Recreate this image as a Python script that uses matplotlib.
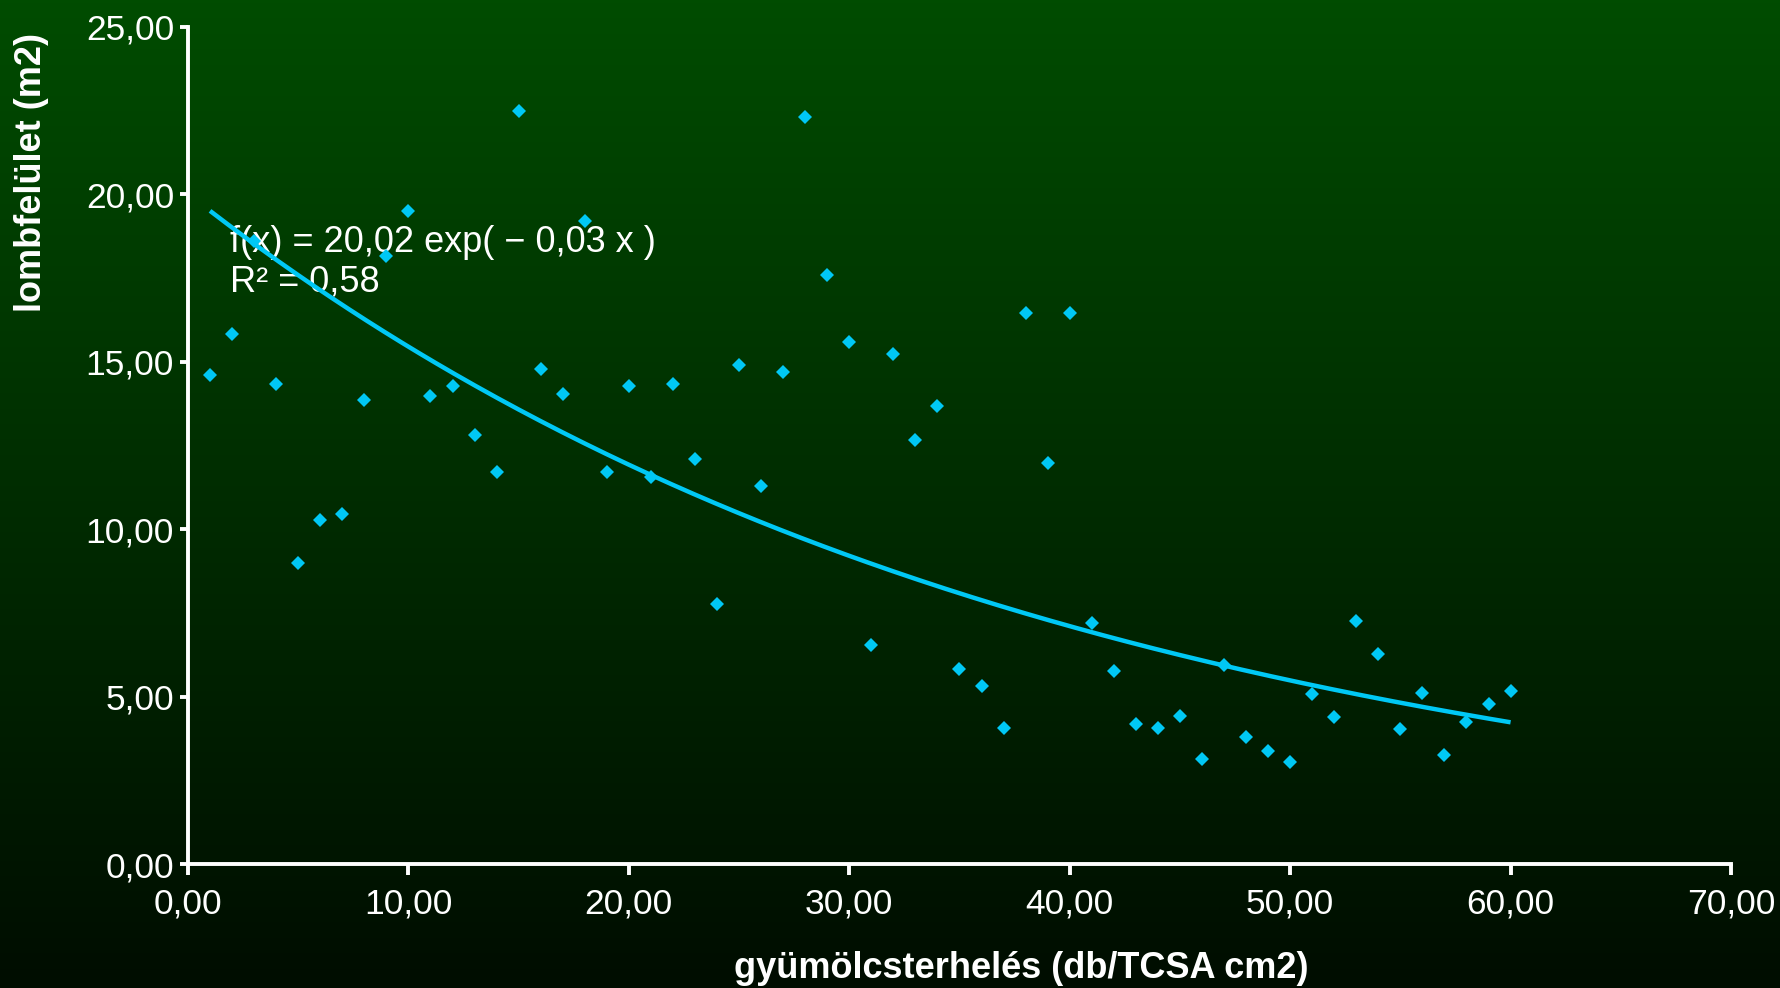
import numpy as np
import matplotlib
matplotlib.use("Agg")
import matplotlib.pyplot as plt
from matplotlib.ticker import FuncFormatter, MultipleLocator

# ---- data ----
fruit_load = list(range(1, 61))
leaf_area = [14.62, 15.84, 18.60, 14.35, 8.99, 10.28, 10.45, 13.87, 18.15, 19.50,
             13.98, 14.28, 12.82, 11.70, 22.50, 14.78, 14.04, 19.22, 11.70, 14.27,
             11.55, 14.33, 12.11, 7.77, 14.89, 11.30, 14.69, 22.32, 17.60, 15.60,
             6.55, 15.23, 12.65, 13.67, 5.83, 5.33, 4.07, 16.45, 11.97, 16.45,
             7.19, 5.77, 4.17, 4.07, 4.41, 3.15, 5.94, 3.80, 3.39, 3.05,
             5.09, 4.38, 7.26, 6.28, 4.04, 5.12, 3.26, 4.24, 4.78, 5.16]
fit_a = 20.02
fit_b = 0.0259
fit_text = "f(x) = 20,02 exp( \u2212 0,03 x )\nR\u00b2 = 0,58"
x_label = "gyümölcsterhelés (db/TCSA cm2)"
y_label = "lombfelület (m2)"

W, H = 1781, 988
fig = plt.figure(figsize=(W / 100, H / 100), dpi=100)

# background gradient
bg = fig.add_axes([0, 0, 1, 1], zorder=-10)
top = np.array([0, 76, 0]) / 255
bot = np.array([0, 13, 0]) / 255
t = np.linspace(0, 1, 256)[:, None]
grad = top[None, :] * (1 - t) + bot[None, :] * t
bg.imshow(grad[:, None, :], aspect="auto", extent=[0, 1, 0, 1])
bg.set_axis_off()

left, right, topy, boty = 188, 1731, 27, 864
ax = fig.add_axes([left / W, 1 - boty / H, (right - left) / W, (boty - topy) / H])
ax.set_facecolor("none")

marker_color = "#00c8f5"
ax.plot(fruit_load, leaf_area, linestyle="none", marker="D", ms=7.6,
        color=marker_color, markeredgewidth=0, zorder=3)

xs = np.linspace(min(fruit_load), max(fruit_load), 300)
ax.plot(xs, fit_a * np.exp(-fit_b * xs), color=marker_color, lw=3.2, zorder=2,
        solid_capstyle="butt")

ax.set_xlim(0, 70)
ax.set_ylim(0, 25)
ax.xaxis.set_major_locator(MultipleLocator(10))
ax.yaxis.set_major_locator(MultipleLocator(5))
fmt = FuncFormatter(lambda v, p: f"{v:.2f}".replace(".", ","))
ax.xaxis.set_major_formatter(fmt)
ax.yaxis.set_major_formatter(fmt)

for s in ["top", "right"]:
    ax.spines[s].set_visible(False)
for s in ["left", "bottom"]:
    ax.spines[s].set_color("white")
    ax.spines[s].set_linewidth(2.8)

ax.tick_params(axis="both", colors="white", width=2.8, direction="out")
ax.tick_params(axis="y", length=6, pad=4)
ax.tick_params(axis="x", length=8, pad=9)
for lab in ax.get_xticklabels() + ax.get_yticklabels():
    lab.set_fontfamily("Liberation Sans")
    lab.set_fontsize(25.5)
    lab.set_color("white")

ax.text(1.9, 17.98, fit_text, color="white", fontsize=26, family="Liberation Sans",
        va="center", ha="left", linespacing=1.16, zorder=1)

fig.text(1021 / W, 1 - 968 / H, x_label, color="white", fontsize=26,
         fontweight="bold", family="Liberation Sans", ha="center", va="center")
fig.text(32 / W, 1 - 172 / H, y_label, color="white", fontsize=26,
         fontweight="bold", family="Liberation Sans", ha="center", va="center",
         rotation=90)

fig.savefig("out.png", dpi=100)
